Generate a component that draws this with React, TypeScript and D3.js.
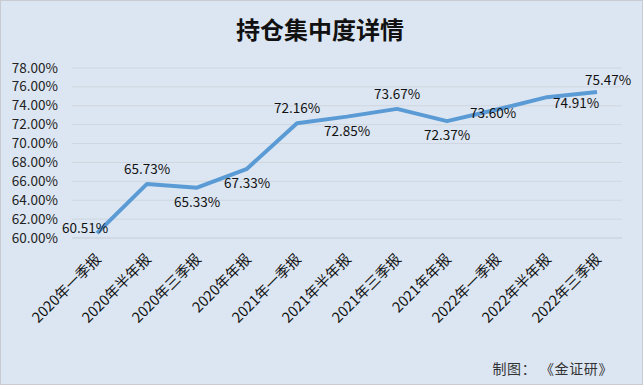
import React from 'react';
import * as d3 from 'd3';

const categories = [
  '2020年一季报', '2020年半年报', '2020年三季报', '2020年年报',
  '2021年一季报', '2021年半年报', '2021年三季报', '2021年年报',
  '2022年一季报', '2022年半年报', '2022年三季报',
];
const values = [60.51, 65.73, 65.33, 67.33, 72.16, 72.85, 73.67, 72.37, 73.6, 74.91, 75.47];
// label placement per point: a = above, b = below, c = on the point, br = below right, ar = above right
const labelPos = ['c', 'a', 'b', 'b', 'a', 'b', 'a', 'b', 'c', 'br', 'ar'];
const yTicks = [60, 62, 64, 66, 68, 70, 72, 74, 76, 78];

const W = 643;
const H = 385;
const FONT = '"Noto Sans CJK SC", "Noto Sans", sans-serif';

export default function App() {
  const x = d3.scaleBand().domain(categories).range([72, 622]);
  const y = d3.scaleLinear().domain([60, 78]).range([238, 68]);
  const cx = (c: string) => (x(c) ?? 0) + x.bandwidth() / 2;

  const line = d3.line<number>()
    .x((_, i) => cx(categories[i]))
    .y(d => y(d));

  return (
    <svg width={W} height={H} style={{ position: 'absolute', left: 0, top: 0 }} fontFamily={FONT}>
      <rect x={0.5} y={0.5} width={W - 1} height={H - 1} fill="#dce6f2" stroke="#c8ccd0" />
      <text x={320} y={39} textAnchor="middle" fontSize={24} fontWeight="bold" fill="#111">持仓集中度详情</text>
      {yTicks.map(t => (
        <g key={t}>
          {t > 60 && <line x1={72} x2={622} y1={y(t)} y2={y(t)} stroke="#cfd6de" strokeWidth={1} />}
          <text x={58} y={y(t) + 4.5} textAnchor="end" fontSize={13.5} fill="#222">{t.toFixed(2)}%</text>
        </g>
      ))}
      <line x1={72} x2={622} y1={y(60)} y2={y(60)} stroke="#c3cbd4" strokeWidth={1} />
      <path d={line(values) ?? ''} fill="none" stroke="#5b9bd5" strokeWidth={4} strokeLinejoin="round" />
      {values.map((v, i) => {
        const px = cx(categories[i]);
        const py = y(v);
        let lx = px, ly = py;
        const p = labelPos[i];
        if (p === 'a') ly = py - 10;
        else if (p === 'b') ly = py + 19;
        else if (p === 'br') { lx = px + 29; ly = py + 11; }
        else if (p === 'ar') { lx = px + 11; ly = py - 7; }
        else if (i === 0) { lx = px - 12; ly = py; }
        else { lx = px - 4; ly = py + 8; }
        return (
          <text key={i} x={lx} y={ly} textAnchor="middle" fontSize={13.5} fill="#111">{v.toFixed(2)}%</text>
        );
      })}
      {categories.map(c => (
        <text key={c} transform={`translate(${cx(c) + 5},${260}) rotate(-45)`} textAnchor="end" fontSize={14.5} fill="#111">{c}</text>
      ))}
      <text x={613} y={374} textAnchor="end" fontSize={14} letterSpacing={0.6} fill="#333">制图：  《金证研》</text>
    </svg>
  );
}
